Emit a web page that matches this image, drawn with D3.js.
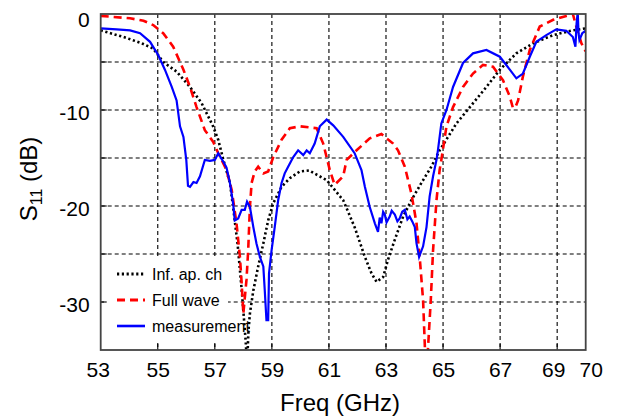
<!DOCTYPE html>
<html lang="en">
<head>
<meta charset="UTF-8">
<title>S11 vs frequency</title>
<script src="https://d3js.org/d3.v7.min.js"></script>
<style>
    body { margin: 0; background: #fff; }
    text { font-family: "Liberation Sans", Arial, sans-serif; fill: #000; }
    .grid { stroke: #000; stroke-width: 1.1; stroke-dasharray: 4,3; }
    .tick-mark { stroke: #000; stroke-width: 1.1; }
    .axis text { font-size: 21px; }
</style>
</head>
<body>
<svg id="chart"></svg>
<script>
// Inf. ap. ch (black dotted)
const infFreq = [53.0, 53.8, 54.4, 54.84, 55.19, 55.66, 56.13, 56.54, 56.94, 57.12, 57.3, 57.53, 57.64, 57.8, 57.95, 58.08, 58.13,
    58.18, 58.23, 58.35, 58.52, 58.7, 58.87, 59.05, 59.34, 59.63, 59.98, 60.3, 60.92, 61.5, 61.9, 62.26, 62.49, 62.67,
    62.9, 63.07, 63.31, 63.6, 63.89, 64.24, 64.59, 64.88, 65.47, 65.94, 66.52, 66.99, 67.57, 68.16, 68.86, 69.55, 70.0];
const infS11 = [-1.7, -2.4, -3.0, -3.6, -5.0, -6.0, -7.6, -9.3, -11.7, -13.1, -15.2, -17.6, -20.1, -24.0, -29.0, -34.0, -36.5,
    -33.0, -31.2, -28.8, -26.3, -23.9, -21.5, -19.7, -18.0, -17.1, -16.4, -16.3, -17.3, -19.4, -22.2, -25.3, -27.0, -27.9,
    -27.4, -25.6, -23.5, -21.1, -19.4, -17.6, -15.9, -14.2, -11.4, -9.7, -7.6, -5.8, -4.1, -3.05, -2.2, -1.7, -1.5];

// Full wave (red dashed)
const fwFreq = [53.0, 54.03, 54.5, 54.84, 55.19, 55.54, 55.9, 56.13, 56.36, 56.65, 56.94, 57.12, 57.41, 57.59, 57.76, 57.88,
    57.94, 58.0, 58.11, 58.17, 58.23, 58.29, 58.4, 58.52, 58.7, 58.87, 59.05, 59.34, 59.63, 59.98, 60.57, 60.8, 61.03,
    61.2, 61.5, 61.62, 61.97, 62.43, 62.84, 63.25, 63.42, 63.66, 63.89, 64.07, 64.18, 64.3, 64.38, 64.45, 64.57, 64.65,
    64.77, 64.88, 64.94, 65.12, 65.35, 65.7, 66.05, 66.4, 66.75, 67.1, 67.34, 67.45, 67.55, 67.63, 67.8, 68.04, 68.39,
    68.86, 69.32, 69.55, 69.67, 69.85, 70.0];
const fwS11 = [-0.2, -0.45, -0.7, -1.15, -2.0, -3.4, -5.8, -7.6, -9.7, -12.1, -13.3, -14.5, -16.25, -18.3, -21.8, -25.3,
    -28.0, -31.2, -27.7, -24.6, -20.1, -17.6, -16.4, -15.9, -16.6, -16.4, -14.9, -13.1, -11.9, -11.7, -11.9, -13.5, -16.25,
    -17.8, -16.9, -15.2, -14.2, -12.95, -12.5, -13.5, -14.2, -15.9, -18.7, -21.8, -25.3, -29.8, -36.0, -36.0, -29.8, -24.6,
    -19.4, -16.25, -15.2, -11.7, -9.7, -7.6, -6.2, -5.3, -5.5, -6.9, -8.6, -9.8, -9.6, -9.0, -6.5, -3.75, -1.3,
    -0.6, -0.2, 0.0, -1.3, -3.05, -3.9];

// measurement (blue solid)
const measFreq = [53.0, 53.56, 54.03, 54.38, 54.73, 55.02, 55.25, 55.49, 55.66, 55.78, 55.9, 56.0, 56.06, 56.13, 56.25, 56.36,
    56.48, 56.65, 56.83, 57.0, 57.12, 57.3, 57.41, 57.53, 57.64, 57.7, 57.82, 57.94, 58.05, 58.13, 58.23, 58.35, 58.46,
    58.58, 58.7, 58.75, 58.81, 58.87, 58.9, 58.99, 59.1, 59.22, 59.34, 59.45, 59.57, 59.75, 59.92, 60.1, 60.22, 60.33,
    60.5, 60.68, 60.92, 61.15, 61.5, 61.9, 62.14, 62.26, 62.43, 62.61, 62.72, 62.78, 62.84, 62.9, 62.96, 63.02, 63.13,
    63.2, 63.31, 63.4, 63.48, 63.57, 63.66, 63.75, 63.83, 63.92, 64.01, 64.07, 64.16, 64.3, 64.42, 64.53, 64.65, 64.77,
    64.82, 64.94, 65.12, 65.35, 65.7, 66.05, 66.52, 66.99, 67.34, 67.57, 67.8, 68.04, 68.27, 68.62, 68.97, 69.32, 69.55,
    69.64, 69.68, 69.72, 69.75, 69.78, 69.88, 69.97, 70.0];
const measS11 = [-1.5, -1.6, -1.7, -2.0, -2.9, -4.3, -5.8, -7.6, -9.0, -11.7, -12.8, -15.2, -17.9, -18.0, -17.5, -17.6,
    -16.9, -15.2, -15.3, -15.2, -14.5, -15.4, -16.0, -17.6, -19.7, -21.5, -21.3, -20.4, -20.4, -19.55, -20.1, -22.2, -23.9,
    -25.3, -26.3, -28.75, -31.9, -31.9, -27.0, -24.6, -22.2, -19.4, -17.6, -16.6, -15.9, -14.9, -14.2, -14.7, -14.2, -14.5,
    -13.5, -11.7, -11.0, -11.6, -12.8, -14.5, -16.25, -18.0, -20.1, -21.8, -22.7, -21.2, -21.8, -20.6, -20.9, -21.7, -21.1,
    -20.5, -20.9, -21.6, -21.3, -20.6, -20.4, -21.4, -21.1, -21.6, -22.2, -23.9, -25.3, -24.2, -22.2, -19.0, -16.9, -15.2,
    -14.2, -11.4, -10.0, -7.6, -5.1, -4.1, -3.75, -4.45, -5.8, -6.7, -6.2, -4.45, -2.9, -2.2, -1.6, -1.75, -2.4,
    -3.4, -1.0, 0.2, -2.0, -2.7, -2.0, -1.8, -1.9];

const xLabels = [53, 55, 57, 59, 61, 63, 65, 67, 69, 70];
const xGrid = [55, 57, 59, 61, 63, 65, 67, 69];
const yLabels = [0, -10, -20, -30];
const yGrid = [-5, -10, -15, -20, -25, -30];
const legendNames = ["Inf. ap. ch", "Full wave", "measurement"];

const width = 619, height = 417;
const plotL = 100.7, plotR = 585.7, plotT = 14, plotB = 350;

const svg = d3.select("#chart").attr("width", width).attr("height", height);

const x = d3.scaleLinear().domain([53, 70]).range([plotL, plotR]);
const y = d3.scaleLinear().domain([-35, 0]).range([plotB, plotT]);

svg.append("rect").attr("width", width).attr("height", height).attr("fill", "#fff");

// grid
svg.selectAll(".vgrid").data(xGrid).enter().append("line")
    .attr("class", "grid")
    .attr("x1", d => x(d)).attr("x2", d => x(d))
    .attr("y1", plotT).attr("y2", plotB);
svg.selectAll(".hgrid").data(yGrid).enter().append("line")
    .attr("class", "grid")
    .attr("x1", plotL).attr("x2", plotR)
    .attr("y1", d => y(d)).attr("y2", d => y(d));

// legend background (hides grid, not the curves)
svg.append("rect")
    .attr("x", 104).attr("y", 258)
    .attr("width", 124).attr("height", 84)
    .attr("fill", "#fff");

// inward tick marks
svg.selectAll(".xtick").data(xGrid).enter().append("line")
    .attr("class", "tick-mark")
    .attr("x1", d => x(d)).attr("x2", d => x(d))
    .attr("y1", plotB).attr("y2", plotB - 6);
svg.selectAll(".ytick").data(yGrid).enter().append("line")
    .attr("class", "tick-mark")
    .attr("x1", plotL).attr("x2", plotL + 6)
    .attr("y1", d => y(d)).attr("y2", d => y(d));

// curves
svg.append("clipPath").attr("id", "plot-clip")
    .append("rect")
    .attr("x", plotL).attr("y", plotT)
    .attr("width", plotR - plotL).attr("height", plotB - plotT);

const line = d3.line().x(d => x(d[0])).y(d => y(d[1]));

const series = [
    { f: infFreq, s: infS11, color: "#000", width: 2.6, dash: "2.2,2.6" },
    { f: fwFreq, s: fwS11, color: "#ff0000", width: 2.6, dash: "8,5" },
    { f: measFreq, s: measS11, color: "#0000ff", width: 2.2, dash: null }
];

const plot = svg.append("g").attr("clip-path", "url(#plot-clip)");
series.forEach(sr => {
    plot.append("path")
        .datum(d3.zip(sr.f, sr.s))
        .attr("d", line)
        .attr("fill", "none")
        .attr("stroke", sr.color)
        .attr("stroke-width", sr.width)
        .attr("stroke-dasharray", sr.dash);
});

// frame
svg.append("rect")
    .attr("x", plotL).attr("y", plotT)
    .attr("width", plotR - plotL).attr("height", plotB - plotT)
    .attr("fill", "none")
    .attr("stroke", "#444")
    .attr("stroke-width", 1.8);

// axes labels (plain hyphen minus, as in the original)
const xAxis = svg.append("g")
    .attr("class", "axis")
    .attr("transform", `translate(0,${plotB})`)
    .call(d3.axisBottom(x).tickValues(xLabels).tickSize(0).tickPadding(12).tickFormat(d => String(d)));
xAxis.select(".domain").remove();
xAxis.selectAll("text")
    .attr("dx", d => d === 69 ? -4 : d === 70 ? 5 : d === 53 ? -3 : 0);

const yAxis = svg.append("g")
    .attr("class", "axis")
    .attr("transform", `translate(${plotL},0)`)
    .call(d3.axisLeft(y).tickValues(yLabels).tickSize(0).tickPadding(11).tickFormat(d => String(d)));
yAxis.select(".domain").remove();
yAxis.selectAll("text").attr("y", d => d === 0 ? 6 : 3);

svg.append("text")
    .attr("x", 340).attr("y", 411)
    .attr("text-anchor", "middle")
    .style("font-size", "24px")
    .text("Freq (GHz)");

const yTitle = svg.append("text")
    .attr("transform", "translate(37,179) rotate(-90)")
    .attr("text-anchor", "middle")
    .style("font-size", "24px");
yTitle.append("tspan").text("S");
yTitle.append("tspan").attr("dy", 5).style("font-size", "16px").text("11");
yTitle.append("tspan").attr("dy", -5).text(" (dB)");

// legend
const legend = svg.append("g");
series.forEach((sr, i) => {
    const ly = 274 + i * 26;
    legend.append("line")
        .attr("x1", 117).attr("x2", 145)
        .attr("y1", ly).attr("y2", ly)
        .attr("stroke", sr.color)
        .attr("stroke-width", sr.width + 0.4)
        .attr("stroke-dasharray", sr.dash);
    legend.append("text")
        .attr("x", 152).attr("y", ly + 5.5)
        .style("font-size", "16px")
        .text(legendNames[i]);
});
</script>
</body>
</html>
